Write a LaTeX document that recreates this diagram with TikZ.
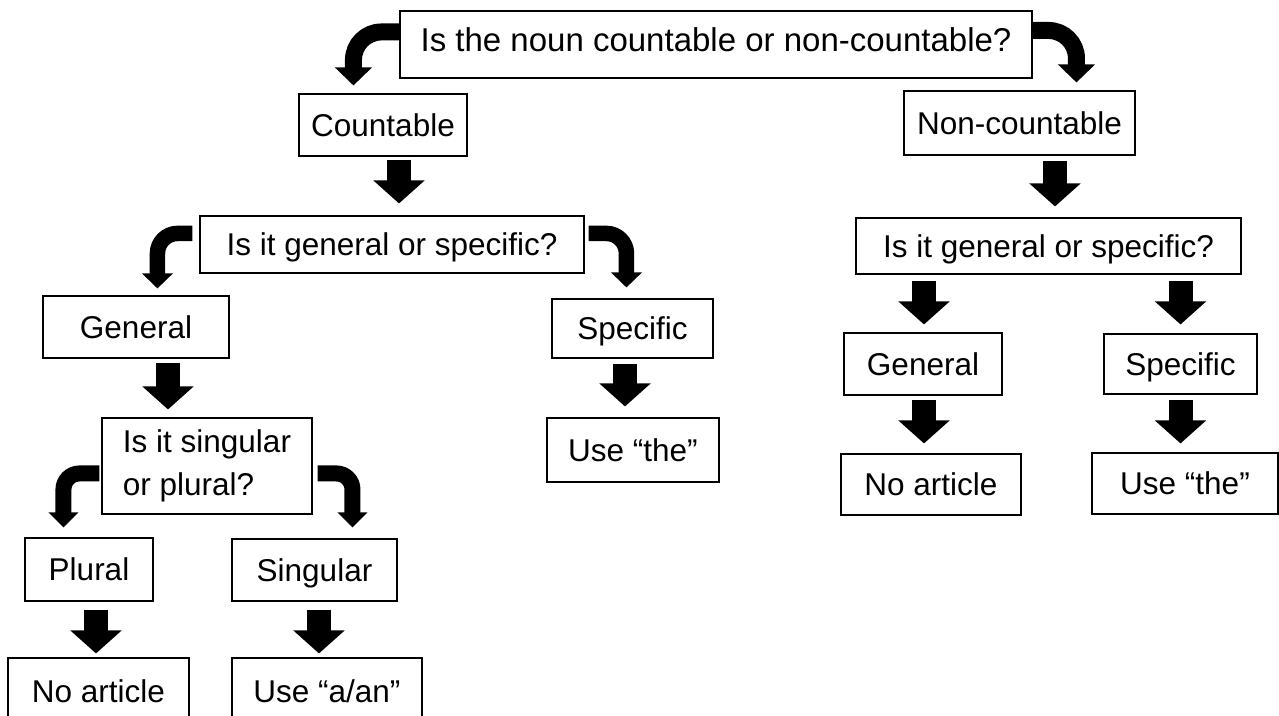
\documentclass[tikz,border=0pt]{standalone}
\usepackage{fontspec}
\setmainfont{Liberation Sans}
\usetikzlibrary{arrows.meta}
\begin{document}
\begin{tikzpicture}[x=1pt,y=-1pt,
  box/.style={draw, line width=1.1pt, inner sep=0pt,
    font=\fontsize{31.5pt}{43pt}\selectfont, text height=22.6pt, text depth=0pt},
  blk/.style={line width=24pt, -{Triangle[width=50pt,length=23pt]}},
  bendA/.style={line width=17pt, rounded corners=28pt, -{Triangle[width=36pt,length=18pt]}},
  bendB/.style={line width=15.5pt, rounded corners=20pt, -{Triangle[width=30pt,length=15pt]}},
  bendC/.style={line width=16pt, rounded corners=16pt, -{Triangle[width=29pt,length=15pt]}}]
\useasboundingbox (0,0) rectangle (1279,715);
\clip (0,0) rectangle (1279,715);
% boxes
\node[box, minimum width=632pt, minimum height=67pt, font=\fontsize{33pt}{40pt}\selectfont, text depth=8pt] (q1) at (716,44.5) {Is the noun countable or non-countable?};
\node[box, minimum width=168pt, minimum height=62pt] (cnt) at (383,125) {Countable};
\node[box, minimum width=231pt, minimum height=64pt] (ncnt) at (1019.5,123) {Non-countable};
\node[box, minimum width=384pt, minimum height=57pt] (q2L) at (392,244.5) {Is it general or specific?};
\node[box, minimum width=385pt, minimum height=56pt] (q2R) at (1048.5,246) {Is it general or specific?};
\node[box, minimum width=186pt, minimum height=62pt] (genL) at (136,327) {General};
\node[box, minimum width=161pt, minimum height=59pt] (specM) at (632.5,328.5) {Specific};
\node[box, minimum width=172pt, minimum height=64pt] (theM) at (633,450) {Use “the”};
\node[box, minimum width=158pt, minimum height=62pt] (genR) at (923,364) {General};
\node[box, minimum width=153pt, minimum height=60pt] (specR) at (1180.5,364) {Specific};
\node[box, minimum width=180pt, minimum height=61pt] (noR) at (931,484.5) {No article};
\node[box, minimum width=186pt, minimum height=61pt] (theR) at (1185,483.5) {Use “the”\hspace{18pt}};
\node[box, minimum width=210pt, minimum height=96pt, align=left, text height=, text depth=] (q3) at (207,466) {Is it singular\\or plural?};
\node[box, minimum width=128pt, minimum height=63pt] (plu) at (89,569.5) {Plural};
\node[box, minimum width=165pt, minimum height=62pt] (sing) at (314.5,570) {Singular};
\node[box, minimum width=181pt, minimum height=67pt] (noL) at (98.5,691.5) {No article};
\node[box, minimum width=190pt, minimum height=67pt] (aan) at (327,691.5) {Use “a/an”};
% straight block arrows
\draw[blk, shorten <=3pt, shorten >=12pt] ([xshift=16pt]cnt.south) -- ([xshift=16pt]cnt.south |- q2L.north);
\draw[blk, shorten <=5pt, shorten >=11pt] ([xshift=35.5pt]ncnt.south) -- ([xshift=35.5pt]ncnt.south |- q2R.north);
\draw[blk, shorten <=4pt, shorten >=8pt] ([xshift=32pt]genL.south) -- ([xshift=32pt]genL.south |- q3.north);
\draw[blk, shorten <=5pt, shorten >=11pt] ([xshift=-7.5pt]specM.south) -- ([xshift=-7.5pt]specM.south |- theM.north);
\draw[blk, shorten <=6pt, shorten >=8pt] ([xshift=1pt]genR.north |- q2R.south) -- ([xshift=1pt]genR.north);
\draw[blk, shorten <=6pt, shorten >=9pt] (specR.north |- q2R.south) -- (specR.north);
\draw[blk, shorten <=4pt, shorten >=10pt] ([xshift=1pt]genR.south) -- ([xshift=1pt]genR.south |- noR.north);
\draw[blk, shorten <=5pt, shorten >=9pt] (specR.south) -- (specR.south |- theR.north);
\draw[blk, shorten <=8pt, shorten >=4pt] ([xshift=7pt]plu.south) -- ([xshift=7pt]plu.south |- noL.north);
\draw[blk, shorten <=8pt, shorten >=4pt] ([xshift=4.5pt]sing.south) -- ([xshift=4.5pt]sing.south |- aan.north);
% bent arrows
\draw[bendA] ([yshift=-21.5pt]q1.north west) -| ([xshift=55pt,yshift=8pt]cnt.north west);
\draw[bendA] ([yshift=-20pt]q1.north east) -| ([xshift=173pt,yshift=8pt]ncnt.north west);
\draw[bendB, shorten <=7pt] ([yshift=-18pt]q2L.north west) -| ([xshift=115pt,yshift=7pt]genL.north west);
\draw[bendB, shorten <=4pt] ([yshift=-18pt]q2L.north east) -| ([xshift=75pt,yshift=11pt]specM.north west);
\draw[bendC, shorten <=2pt] ([yshift=-56pt]q3.north west) -| ([xshift=39pt,yshift=10pt]plu.north west);
\draw[bendC, shorten <=5pt] ([yshift=-56pt]q3.north east) -| ([xshift=121pt,yshift=11pt]sing.north west);
\end{tikzpicture}
\end{document}
